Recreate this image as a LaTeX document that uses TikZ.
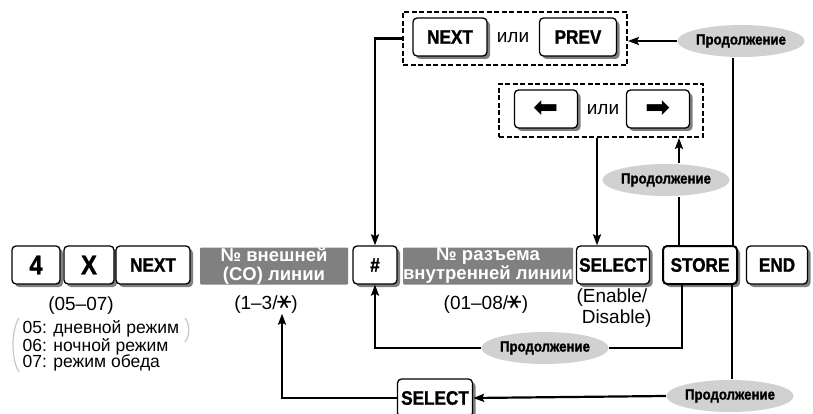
\documentclass[tikz,border=0pt]{standalone}
\usepackage{fontspec}
\setmainfont{Liberation Sans}
\newfontfamily\keyfont[FakeStretch=0.88,FakeBold=1.3]{Liberation Sans}
\newfontfamily\symfont{DejaVu Sans}
\usetikzlibrary{arrows.meta,shadows,shapes.geometric}

\newcommand{\starsym}{\rotatebox[origin=c]{90}{\symfont\fontsize{22}{22}\selectfont ∗}}

\begin{document}
\begin{tikzpicture}[x=1pt,y=-1pt,>={Stealth[length=11pt,width=8pt,inset=2pt]},line width=2.2pt]
\tikzstyle{every node} = [font = \fontsize{19}{21}\selectfont, line width=1.3pt]
\tikzstyle{key} = [draw, rounded corners=4pt, fill=white, inner sep=0pt,
  minimum height=38pt, font=\keyfont\bfseries\fontsize{19.5}{21}\selectfont,
  drop shadow={shadow xshift=3pt, shadow yshift=-3pt, fill=black!50, opacity=1}]
\tikzstyle{graybox} = [fill=black!50, text=white, align=center, inner sep=0pt,
  minimum height=37pt, rounded corners=1pt,
  font=\bfseries\fontsize{18.5}{19}\selectfont]
\tikzstyle{choice} = [draw, dash pattern=on 5pt off 2.5pt, line width=1.8pt,
  inner sep=0pt]
\tikzstyle{cont} = [ellipse, fill=black!18, inner sep=0pt, minimum width=107pt,
  minimum height=32pt, font=\keyfont\bfseries\fontsize{15}{16}\selectfont]
\tikzstyle{sublabel} = [align=center, inner sep=0pt]

\useasboundingbox (0,0) rectangle (813,414);

% choices NEXT / PREV
\node [choice, minimum width=224pt, minimum height=53pt] (topbox) at (515,38.5) {};
\node [key, minimum width=74pt] (next) at (450,37) {NEXT};
\node [key, minimum width=77pt] (prev) at (578,37) {PREV};
\node (or1) at (513,38) {или};

% choices left / right
\node [choice, minimum width=204pt, minimum height=53pt] (arrbox) at (601,110.5) {};
\node [key, minimum width=63pt, font=\symfont\fontsize{30}{30}\selectfont] (left) at (546,109) {⬅};
\node [key, minimum width=63pt, font=\symfont\fontsize{30}{30}\selectfont] (right) at (658,109) {➡};
\node (or2) at (603,110) {или};

% main row
\node [key, minimum width=48pt, font=\keyfont\bfseries\fontsize{27}{28}\selectfont] (four) at (36,265) {4};
\node [key, minimum width=50pt, font=\keyfont\bfseries\fontsize{27}{28}\selectfont] (ex) at (89,265) {X};
\node [key, minimum width=74pt] (nextb) at (153,265) {NEXT};
\node [graybox, minimum width=148pt] (coline) at (274,266) {№ внешней\\(CO) линии};
\node [key, minimum width=44pt] (hash) at (375,265) {\#};
\node [graybox, minimum width=170pt] (extline) at (488,266) {№ разъема\\внутренней линии};
\node [key, minimum width=73pt] (sel) at (613,265) {SELECT};
\node [key, minimum width=74pt, line width=2pt] (store) at (700,265) {STORE};
\node [key, minimum width=61pt] (endk) at (777,265) {END};

% values
\node [sublabel] (modelab) at (81,306) {(05–07)};
\node [sublabel, align=left, font=\fontsize{17.5}{16.5}\selectfont, anchor=north west] (modes) at (22,320)
  {05: дневной режим\\06: ночной режим\\07: режим обеда};
\draw [black!22, line width=1.2pt] (19,318) .. controls (11,330) and (11,360) .. (19,372);
\draw [black!22, line width=1.2pt] (185,318) .. controls (190,324) and (190,336) .. (185,342);
\node [sublabel] (colab) at (266,303) {(1–3/\starsym)};
\node [sublabel] (extlab) at (486,303) {(01–08/\starsym)};
\node [sublabel, align=left] (sellab) at (614,308) {(Enable/\\\ Disable)};

% continuation
\node [cont] (cont1) at (741,41) {Продолжение};
\node [cont] (cont2) at (666,180) {Продолжение};
\node [cont] (cont3) at (545,348) {Продолжение};
\node [cont] (cont4) at (730,396) {Продолжение};
\node [key, minimum width=75pt] (selb) at (435,398) {SELECT};

% connectors
\draw ([xshift=33pt]store.north) -- ([xshift=33pt]store.north |- cont1.south);
\draw [->] (cont1.west) -- (cont1.west -| topbox.east);
\draw [->] (topbox.west) -| (hash.north);
\draw ([xshift=-21pt]store.north) -- ([xshift=-21pt]store.north |- cont2.south);
\draw [->] ([xshift=-21pt]store.north |- cont2.north) -- ([xshift=-21pt]store.north |- arrbox.south);
\draw [->] ([xshift=-16pt]sel.north |- arrbox.south) -- ([xshift=-16pt]sel.north);
\draw ([xshift=-18pt]store.south) |- (cont3.east);
\draw [->] (cont3.west) -| (hash.south);
\draw ([xshift=32pt]store.south) -- ([xshift=32pt]store.south |- cont4.north);
\draw [->] (cont4.west) -- (selb.east);
\draw [->] (selb.west) -| ([xshift=16pt]colab.south);
\end{tikzpicture}
\end{document}
